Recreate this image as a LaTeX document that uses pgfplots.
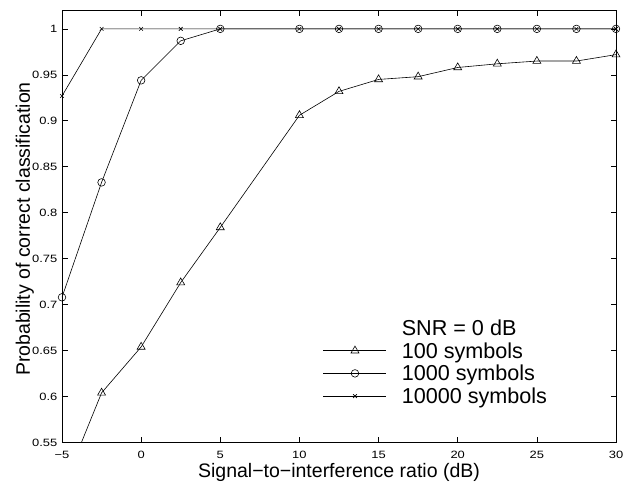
\documentclass[border=0pt]{standalone}
\usepackage{fontspec}
\setmainfont{Liberation Sans}
\newfontfamily\tickfont[FakeStretch=1.22]{Liberation Sans}
\usepackage{pgfplots}
\pgfplotsset{compat=1.18}
\begin{document}
\begin{tikzpicture}
\begin{axis}[
 at={(0,0)}, anchor=south west,
 scale only axis, width=554bp, height=432bp,
 xmin=-5, xmax=30, ymin=0.55, ymax=1.02,
 xtick={-5,0,5,10,15,20,25,30},
 xticklabels={−5,0,5,10,15,20,25,30},
 ytick={0.55,0.6,0.65,0.7,0.75,0.8,0.85,0.9,0.95,1},
 yticklabels={0.55,0.6,0.65,0.7,0.75,0.8,0.85,0.9,0.95,1},
 tick align=inside, major tick length=5.5bp,
 tick style={black, line width=0.6bp},
 axis line style={line width=0.9bp},
 ticklabel style={font=\tickfont\fontsize{10.6bp}{12bp}\selectfont},
 xticklabel style={anchor=north, inner sep=0pt, yshift=-8.5bp},
 yticklabel style={anchor=east, inner sep=0pt, xshift=-4.5bp},
 xlabel={Signal−to−interference ratio (dB)},
 ylabel={Probability of correct classification},
 label style={font=\fontsize{19.5bp}{22bp}\selectfont},
 xlabel style={at={(axis description cs:0.5,-0.0806)}, anchor=base, inner sep=0pt},
 ylabel style={at={(axis description cs:-0.0578,0.494)}, anchor=base, inner sep=0pt},
 clip mode=individual,
 legend image code/.code={\draw[mark repeat=2,mark phase=2,#1] plot coordinates {(0bp,0bp) (31.5bp,0bp) (63bp,0bp)};},
 legend cell align=left,
 legend style={draw=none, fill=none, inner sep=0pt, at={(axis description cs:0.4711,0.2829)}, anchor=north west,
   font=\fontsize{21.6bp}{24bp}\selectfont, row sep=7.7bp, column sep=15bp,
   nodes={inner sep=0pt, text height=15bp, text depth=0bp}},
]
\addlegendimage{empty legend}
\addlegendentry{SNR = 0 dB}
\addlegendimage{black, line width=0.6bp, mark=triangle, mark size=4.6bp, mark options={solid}}
\addlegendentry{100 symbols}
\addlegendimage{black, line width=0.6bp, mark=o, mark size=3.8bp}
\addlegendentry{1000 symbols}
\addlegendimage{black, line width=0.6bp, mark=x, mark size=2.6bp}
\addlegendentry{10000 symbols}

% 100 symbols (line incl. point below range, marks only inside)
\addplot[black, line width=0.6bp, no marks, forget plot] coordinates {
 (-5,0.498) (-2.5,0.604) (0,0.654) (2.5,0.724) (5,0.784) (10,0.906) (12.5,0.932)
 (15,0.945) (17.5,0.948) (20,0.958) (22.5,0.962) (25,0.965) (27.5,0.965) (30,0.972)};
\addplot[black, line width=0.6bp, only marks, mark=triangle, mark size=4.6bp, forget plot] coordinates {
 (-2.5,0.604) (0,0.654) (2.5,0.724) (5,0.784) (10,0.906) (12.5,0.932)
 (15,0.945) (17.5,0.948) (20,0.958) (22.5,0.962) (25,0.965) (27.5,0.965) (30,0.972)};
% 1000 symbols
\addplot[black, line width=0.6bp, mark=o, mark size=3.8bp, forget plot] coordinates {
 (-5,0.708) (-2.5,0.833) (0,0.944) (2.5,0.987) (5,1) (10,1) (12.5,1)
 (15,1) (17.5,1) (20,1) (22.5,1) (25,1) (27.5,1) (30,1)};
% 10000 symbols
\addplot[black, line width=0.6bp, mark=x, mark size=2.6bp, forget plot] coordinates {
 (-5,0.927) (-2.5,1) (0,1) (2.5,1) (5,1) (10,1) (12.5,1)
 (15,1) (17.5,1) (20,1) (22.5,1) (25,1) (27.5,1) (30,1)};
\end{axis}
\pgfresetboundingbox
\path (-62bp,-39.5bp) rectangle (575bp,442.5bp);
\end{tikzpicture}
\end{document}
